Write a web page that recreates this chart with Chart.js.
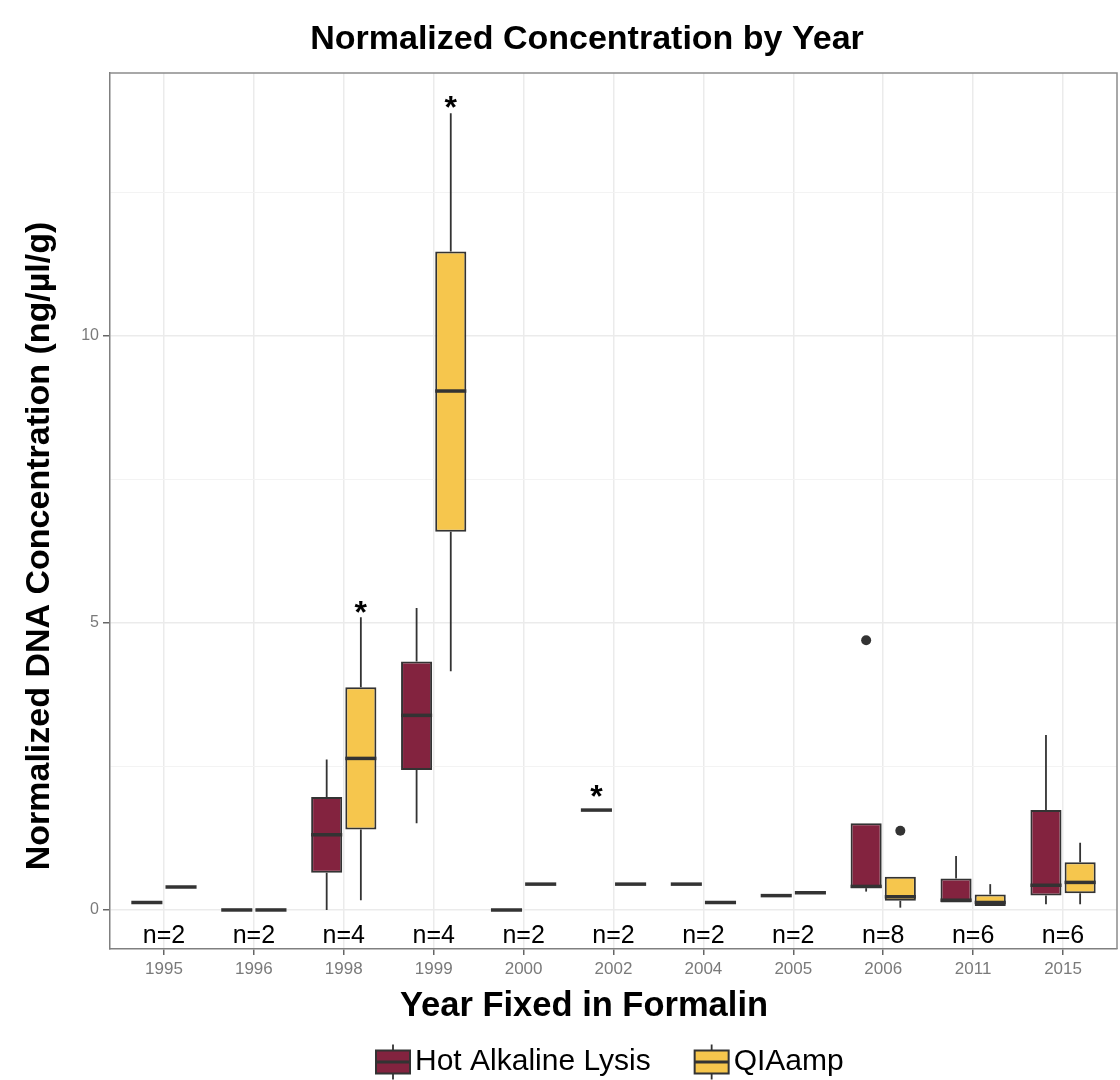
<!DOCTYPE html>
<html>
<head>
<meta charset="utf-8">
<title>Normalized Concentration by Year</title>
<script src="https://cdn.jsdelivr.net/npm/chart.js@4.4.0/dist/chart.umd.min.js"></script>
<style>
  html, body { margin: 0; padding: 0; background: #fff; }
  canvas { display: block; }
</style>
</head>
<body>
<canvas id="chart" width="1120" height="1080"></canvas>
<script>
// Categories and sample counts
const years = ["1995", "1996", "1998", "1999", "2000", "2002", "2004", "2005", "2006", "2011", "2015"];
const nLabels = ["n=2", "n=2", "n=4", "n=4", "n=2", "n=2", "n=2", "n=2", "n=8", "n=6", "n=6"];

// Hot Alkaline Lysis (whisker low, Q1, median, Q3, whisker high, outliers)
const hotLow = [0.13, 0, 0.0, 1.51, 0, 1.74, 0.45, 0.25, 0.32, 0.13, 0.1];
const hotQ1 = [0.13, 0, 0.65, 2.44, 0, 1.74, 0.45, 0.25, 0.38, 0.13, 0.25];
const hotMedian = [0.13, 0, 1.31, 3.39, 0, 1.74, 0.45, 0.25, 0.41, 0.17, 0.43];
const hotQ3 = [0.13, 0, 1.97, 4.33, 0, 1.74, 0.45, 0.25, 1.51, 0.55, 1.74];
const hotHigh = [0.13, 0, 2.62, 5.26, 0, 1.74, 0.45, 0.25, 1.51, 0.94, 3.05];
const hotOutliers = [[], [], [], [], [], [], [], [], [4.7], [], []];

// QIAamp
const qiaLow = [0.4, 0, 0.17, 4.16, 0.45, 0.45, 0.13, 0.3, 0.04, 0.07, 0.1];
const qiaQ1 = [0.4, 0, 1.4, 6.59, 0.45, 0.45, 0.13, 0.3, 0.16, 0.07, 0.29];
const qiaMedian = [0.4, 0, 2.64, 9.04, 0.45, 0.45, 0.13, 0.3, 0.23, 0.13, 0.48];
const qiaQ3 = [0.4, 0, 3.88, 11.47, 0.45, 0.45, 0.13, 0.3, 0.58, 0.27, 0.83];
const qiaHigh = [0.4, 0, 5.1, 13.88, 0.45, 0.45, 0.13, 0.3, 0.58, 0.45, 1.17];
const qiaOutliers = [[], [], [], [], [], [], [], [], [1.38], [], []];

// Significance stars: year, series index, height
const starYears = ["1998", "1999", "2002"];
const starSeries = [1, 1, 0];
const starValues = [5.27, 14.08, 2.07];

const nLabelValue = -0.45;

const FONT = "'Liberation Sans', Arial, Helvetica, sans-serif";
const EDGE = "#333333";

const series = [
  { label: "Hot Alkaline Lysis", color: "#83233f", lo: hotLow, q1: hotQ1, med: hotMedian, q3: hotQ3, hi: hotHigh, out: hotOutliers },
  { label: "QIAamp", color: "#f6c64d", lo: qiaLow, q1: qiaQ1, med: qiaMedian, q3: qiaQ3, hi: qiaHigh, out: qiaOutliers },
];

Chart.defaults.font.family = FONT;

// whiskers, medians, outliers, stars, labels, titles and legend
const boxplotParts = {
  id: "boxplotParts",
  beforeDatasetsDraw(chart) {
    const ctx = chart.ctx;
    const y = chart.scales.y;
    ctx.save();
    ctx.strokeStyle = EDGE;
    ctx.lineWidth = 1.8;
    series.forEach((s, d) => {
      chart.getDatasetMeta(d).data.forEach((bar, i) => {
        ctx.beginPath();
        ctx.moveTo(bar.x, y.getPixelForValue(s.hi[i]));
        ctx.lineTo(bar.x, y.getPixelForValue(s.q3[i]));
        ctx.moveTo(bar.x, y.getPixelForValue(s.q1[i]));
        ctx.lineTo(bar.x, y.getPixelForValue(s.lo[i]));
        ctx.stroke();
      });
    });
    ctx.restore();
  },
  afterDatasetsDraw(chart) {
    const ctx = chart.ctx;
    const x = chart.scales.x;
    const y = chart.scales.y;
    ctx.save();
    // medians
    ctx.strokeStyle = EDGE;
    ctx.lineWidth = 3.5;
    series.forEach((s, d) => {
      chart.getDatasetMeta(d).data.forEach((bar, i) => {
        const py = y.getPixelForValue(s.med[i]);
        ctx.beginPath();
        ctx.moveTo(bar.x - bar.width / 2, py);
        ctx.lineTo(bar.x + bar.width / 2, py);
        ctx.stroke();
      });
    });
    // outliers
    ctx.fillStyle = EDGE;
    series.forEach((s, d) => {
      chart.getDatasetMeta(d).data.forEach((bar, i) => {
        s.out[i].forEach((v) => {
          ctx.beginPath();
          ctx.arc(bar.x, y.getPixelForValue(v), 5, 0, Math.PI * 2);
          ctx.fill();
        });
      });
    });
    // stars
    ctx.fillStyle = "#000";
    ctx.font = "bold 32px " + FONT;
    ctx.textAlign = "center";
    ctx.textBaseline = "alphabetic";
    starYears.forEach((yr, k) => {
      const bar = chart.getDatasetMeta(starSeries[k]).data[years.indexOf(yr)];
      const m = ctx.measureText("*");
      const mid = (m.actualBoundingBoxAscent - m.actualBoundingBoxDescent) / 2;
      ctx.fillText("*", bar.x, y.getPixelForValue(starValues[k]) + mid);
    });
    // sample counts
    ctx.font = "25px " + FONT;
    ctx.textBaseline = "middle";
    nLabels.forEach((t, i) => {
      ctx.fillText(t, x.getPixelForValue(i), y.getPixelForValue(nLabelValue));
    });
    ctx.restore();
  },
  afterDraw(chart) {
    const ctx = chart.ctx;
    const area = chart.chartArea;
    ctx.save();
    // top and right panel border
    ctx.strokeStyle = "#8c8c8c";
    ctx.lineWidth = 1.5;
    ctx.beginPath();
    ctx.moveTo(area.left, area.top);
    ctx.lineTo(area.right, area.top);
    ctx.lineTo(area.right, area.bottom);
    ctx.stroke();

    // titles
    ctx.fillStyle = "#000";
    ctx.textAlign = "center";
    ctx.textBaseline = "middle";
    ctx.font = "bold 34px " + FONT;
    ctx.fillText("Normalized Concentration by Year", 587, 40);
    ctx.font = "bold 34.5px " + FONT;
    ctx.fillText("Year Fixed in Formalin", 584, 1006);
    ctx.font = "bold 34px " + FONT;
    ctx.save();
    ctx.translate(40, 546);
    ctx.rotate(-Math.PI / 2);
    ctx.fillText("Normalized DNA Concentration (ng/µl/g)", 0, 0);
    ctx.restore();

    // legend
    ctx.font = "30px " + FONT;
    ctx.textAlign = "left";
    const iconW = 34, iconH = 23, cy = 1062;
    let lx = 376;
    series.forEach((s) => {
      const cx = lx + iconW / 2;
      ctx.strokeStyle = EDGE;
      ctx.lineWidth = 1.8;
      ctx.beginPath();
      ctx.moveTo(cx, cy - iconH / 2 - 6);
      ctx.lineTo(cx, cy + iconH / 2 + 6);
      ctx.stroke();
      ctx.fillStyle = s.color;
      ctx.fillRect(lx, cy - iconH / 2, iconW, iconH);
      ctx.lineWidth = 2;
      ctx.strokeRect(lx, cy - iconH / 2, iconW, iconH);
      ctx.lineWidth = 3;
      ctx.beginPath();
      ctx.moveTo(lx, cy);
      ctx.lineTo(lx + iconW, cy);
      ctx.stroke();
      ctx.fillStyle = "#000";
      ctx.fillText(s.label, lx + iconW + 5, cy);
      lx += iconW + 5 + ctx.measureText(s.label).width + 44;
    });
    ctx.restore();
  },
};

new Chart(document.getElementById("chart"), {
  type: "bar",
  data: {
    datasets: series.map((s) => ({
      label: s.label,
      data: years.map((yr, i) => ({ x: i, y: [s.q1[i], s.q3[i]] })),
      backgroundColor: s.color,
      borderColor: EDGE,
      borderWidth: 2,
      borderSkipped: false,
      categoryPercentage: 0.76,
      barPercentage: 0.91,
    })),
  },
  options: {
    responsive: false,
    animation: false,
    layout: { padding: { left: 60, right: 3, top: 73, bottom: 0 } },
    plugins: {
      legend: { display: false },
      title: { display: false },
      tooltip: { enabled: false },
    },
    scales: {
      x: {
        type: "linear",
        offset: false,
        min: -0.6,
        max: 10.6,
        afterBuildTicks: (scale) => {
          scale.ticks = years.map((yr, i) => ({ value: i }));
        },
        afterFit: (scale) => {
          scale.height = 131;
        },
        ticks: {
          autoSkip: false,
          maxRotation: 0,
          padding: 4,
          color: "#7a7a7a",
          font: { size: 17 },
          callback: (v) => years[v],
        },
        grid: {
          offset: false,
          color: "#ebebeb",
          lineWidth: 1.5,
          tickLength: 6,
          tickColor: "#666",
          tickWidth: 1.5,
        },
        border: { color: "#808080", width: 1.5 },
      },
      y: {
        min: -0.68,
        max: 14.58,
        afterFit: (scale) => {
          scale.width = 50;
        },
        ticks: {
          stepSize: 2.5,
          includeBounds: false,
          padding: 4,
          color: "#7a7a7a",
          font: { size: 16 },
          callback: (v) => (v % 5 === 0 ? v : ""),
        },
        grid: {
          color: (c) => (c.tick && c.tick.value % 5 === 0 ? "#ebebeb" : "#f3f3f3"),
          lineWidth: (c) => (c.tick && c.tick.value % 5 === 0 ? 1.5 : 1),
          tickLength: 7,
          tickColor: (c) => (c.tick && c.tick.value % 5 === 0 ? "#666" : "rgba(0,0,0,0)"),
          tickWidth: 1.5,
        },
        border: { color: "#808080", width: 1.5 },
      },
    },
  },
  plugins: [boxplotParts],
});
</script>
</body>
</html>
